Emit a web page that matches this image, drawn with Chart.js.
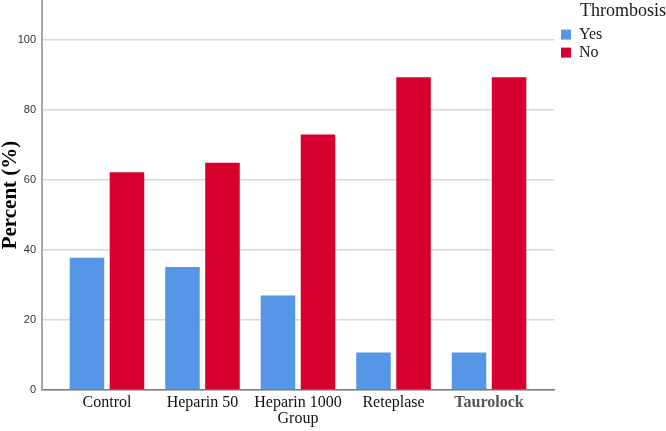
<!DOCTYPE html>
<html>
<head>
<meta charset="utf-8">
<script src="https://cdn.jsdelivr.net/npm/chart.js@4"></script>
<style>
  html, body { margin: 0; padding: 0; background: #fff; }
  #wrap { width: 666px; height: 431px; }
</style>
</head>
<body>
<div id="wrap"><canvas id="chart" width="666" height="431"></canvas></div>
<script>
// Chart data
const categories = ['Control', 'Heparin 50', 'Heparin 1000 Group', 'Reteplase', 'Taurolock'];
const yesValues = [37.8, 35.1, 27.0, 10.7, 10.7];
const noValues = [62.2, 64.9, 73.0, 89.3, 89.3];
const yTicks = [0, 20, 40, 60, 80, 100];

const legendTitle = 'Thrombosis';
const seriesNames = ['Yes', 'No'];
const seriesColors = ['#5596E6', '#D6002F'];

/**
 * Turns a value list into {x, y} points for the linear x axis.
 */
function toPoints(values) {
    return values.map((v, i) => ({ x: i, y: v }));
}

/**
 * Breaks long category names onto two lines.
 */
function splitLabel(text) {
    if (text.length <= 12) return text;
    const cut = text.lastIndexOf(' ');
    return [text.slice(0, cut), text.slice(cut + 1)];
}

// Give the right-hand legend a fixed column and nudge its items in
const legendSizer = {
    id: 'legendSizer',
    beforeLayout(chart) {
        const legend = chart.legend;
        if (legend && !legend._wrapped) {
            const fit = legend.fit;
            legend.fit = function () {
                fit.call(this);
                this.width = 112;
            };
            legend._wrapped = true;
        }
    },
    afterLayout(chart) {
        const legend = chart.legend;
        if (legend) {
            legend.left += 5;
            legend.width -= 5;
        }
    }
};

// No extra room for edge labels: the plot runs to the canvas edges
function noEdgePadding(scale) {
    scale.paddingTop = 0;
    scale.paddingBottom = 0;
    scale.paddingLeft = 0;
    scale.paddingRight = 0;
}

const ctx = document.getElementById('chart').getContext('2d');
const chart = new Chart(ctx, {
    type: 'bar',
    data: {
        datasets: [
            {
                label: seriesNames[0],
                data: toPoints(yesValues),
                backgroundColor: seriesColors[0],
                borderWidth: 0
            },
            {
                label: seriesNames[1],
                data: toPoints(noValues),
                backgroundColor: seriesColors[1],
                borderWidth: 0
            }
        ]
    },
    options: {
        responsive: false,
        animation: false,
        devicePixelRatio: 1,
        categoryPercentage: 0.838,
        barPercentage: 0.8625,
        layout: { padding: 0 },
        plugins: {
            tooltip: { enabled: false },
            legend: {
                position: 'right',
                align: 'start',
                title: {
                    display: true,
                    text: legendTitle,
                    position: 'end',
                    color: '#1a1a1a',
                    font: { family: '"Liberation Serif", "Times New Roman", serif', size: 18 },
                    padding: { top: 2, bottom: 1 }
                },
                labels: {
                    boxWidth: 10,
                    boxHeight: 10,
                    padding: 2,
                    color: '#1a1a1a',
                    font: { family: '"Liberation Serif", "Times New Roman", serif', size: 16 }
                }
            }
        },
        scales: {
            x: {
                type: 'linear',
                offset: false,
                min: -0.68,
                max: 4.68,
                grid: { display: false, drawTicks: false, offset: false },
                border: { display: true, color: '#7a7a7a', width: 1.5 },
                afterBuildTicks(scale) {
                    scale.ticks = categories.map((_, i) => ({ value: i }));
                },
                afterFit(scale) {
                    scale.height = 41;
                    noEdgePadding(scale);
                },
                ticks: {
                    autoSkip: false,
                    maxRotation: 0,
                    padding: 4,
                    callback: (value) => splitLabel(categories[value]),
                    color: (c) => c.index === 4 ? '#555555' : '#111111',
                    font: (c) => ({
                        family: '"Liberation Serif", "Times New Roman", serif',
                        size: 16,
                        lineHeight: 1.05,
                        weight: c.index === 4 ? 'bold' : 'normal'
                    })
                }
            },
            y: {
                min: 0,
                max: 111.4,
                afterBuildTicks(scale) {
                    scale.ticks = yTicks.map(v => ({ value: v }));
                },
                afterFit(scale) {
                    scale.width = 42;
                    noEdgePadding(scale);
                },
                grid: { color: '#d9d9d9', lineWidth: 1.5, drawTicks: false },
                border: { display: true, color: '#a8a8a8', width: 2 },
                ticks: {
                    padding: 6,
                    color: '#333333',
                    font: { family: '"Liberation Sans", Arial, sans-serif', size: 11 }
                },
                title: {
                    display: true,
                    text: 'Percent (%)',
                    color: '#000000',
                    padding: 0,
                    font: { family: '"Liberation Serif", "Times New Roman", serif', size: 21, weight: 'bold', lineHeight: 1 }
                }
            }
        }
    },
    plugins: [legendSizer]
});
</script>
</body>
</html>
